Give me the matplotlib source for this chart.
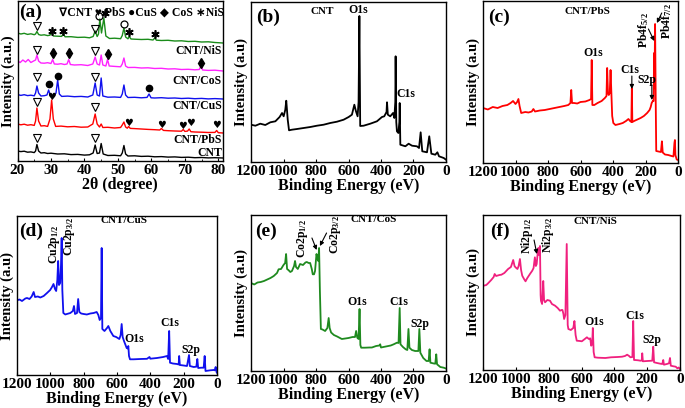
import matplotlib
matplotlib.use("Agg")
import matplotlib.pyplot as plt

plt.rcParams['font.family'] = ['Liberation Serif', 'DejaVu Sans']
plt.rcParams['font.weight'] = 'bold'
plt.rcParams['axes.labelweight'] = 'bold'
plt.rcParams['mathtext.fontset'] = 'custom'
plt.rcParams['mathtext.rm'] = 'Liberation Serif:bold'
plt.rcParams['mathtext.it'] = 'Liberation Serif:bold'
plt.rcParams['mathtext.bf'] = 'Liberation Serif:bold'

# ---------------- (a) XRD: (2theta, intensity) ----------------
xrd_cnt = [(20,10),(21,9.4),(22,9.8),(23,8.8),(24,9.1),(25,8.4),(25.4,10),(25.8,16.5),(26.3,10),(27,8),(28,8.3),
           (29,7.5),(30,7.8),(32,7),(34,7.2),(36,6.4),(38,6.6),(40,5.9),(41.5,6.2),(42.6,8),(43.2,16),(43.8,7.5),
           (44.5,8),(45.0,17.5),(45.6,7),(47,5.5),(49,5.7),(50.8,5.2),(51.3,8),(51.8,15.5),(52.3,7),(53,5),(55,5.2),
           (57,4.6),(59,4.8),(61,4.2),(63,4.4),(65,3.9),(67,4.1),(69,3.6),(71,3.8),(73,3.3),(75,3.5),(77,3.1),
           (79,3.3),(81.4,3)]
xrd_pbs = [(20,37),(21,36.2),(22,36.8),(23,35.8),(24,36.3),(25,35.6),(25.4,40),(25.8,53),(26.3,40),(27,35),(28,35.3),
           (29,34.6),(29.7,42),(30.2,61),(30.7,42),(31.4,34.6),(33,34.9),(35,34.2),(37,34.5),(39,33.8),(41,34),
           (42.5,37),(43.2,47),(43.8,37),(44.5,34),(45.0,37),(45.5,33.5),(47,33.7),(49,33),(50.8,33.5),(51.3,36),
           (51.8,39),(52.3,34),(52.8,32.8),(53.2,34.5),(53.7,32.6),(55,32.4),(57,32),(59,31.6),(61,31.3),(62.5,31),
           (63,32.5),(63.6,30.6),(65,30.3),(67,30),(69,29.8),(69.5,31.5),(70,29.6),(70.8,29.9),(71.3,32),(71.8,29.3),
           (73,29),(75,28.8),(77,28.5),(79,28.6),(79.5,30.5),(80,28.3),(81.4,28)]
xrd_cus = [(20,66.5),(21,65.6),(22,66.3),(23,65.4),(24,65.8),(25,65.2),(25.4,68),(25.8,75),(26.3,68),(27,65),
           (28,65.3),(28.8,66),(29.3,71),(29.8,65.5),(30.8,64.8),(31.5,68),(32.0,81),(32.5,67),(33.2,64.6),(35,64.9),
           (37,64.3),(39,64.6),(41,64),(42.5,66),(43.2,78),(43.8,66),(44.5,65),(45.0,83),(45.5,65),(47,63.8),(49,64),
           (50.8,63.6),(51.3,67),(51.8,76),(52.3,66),(53,63.5),(55,63.7),(57,63.2),(58.7,63.6),(59.3,67),(59.9,63.2),
           (61,63),(63,63.3),(65,62.8),(67,63),(69,62.5),(71,62.8),(73,62.3),(75,62.6),(77,62.1),(79,62.4),(81.4,62)]
xrd_cos = [(20,100),(20.8,98.5),(21.6,101),(22.4,99),(23.2,101.5),(24,98.5),(24.8,100),(25.4,101),(25.8,106),
           (26.3,100),(27,98),(28,97.8),(29,98.3),(30,97.5),(30.5,101.5),(31,97),(32,96.8),(33,97.3),(34,96.5),
           (34.8,97),(35.3,101.5),(35.8,96.5),(37,96),(39,96.3),(41,95.5),(42.5,97),(43.2,104),(43.8,97),(44.5,96),
           (45.0,106),(45.5,96),(46.4,95),(46.9,101.5),(47.4,95),(49,94.6),(50.8,94.2),(51.3,97),(51.8,103),
           (52.3,95),(53,93.5),(55,93.6),(57,93),(59,93.2),(61,92.5),(63,92.7),(65,92),(67,92.2),(69,91.5),
           (71,91.7),(73,91.2),(74.3,91.5),(74.8,95),(75.3,91),(77,90.6),(79,90.8),(81.4,90)]
xrd_nis = [(20,128),(21,127),(22,127.7),(23,126.6),(24,127.2),(25,126.3),(25.4,127),(25.8,129.5),(26.3,126.5),
           (27,125.8),(28,126.2),(29,125.4),(29.7,125.8),(30.2,128.5),(30.7,125),(32,124.8),(33.2,124.6),
           (33.7,127.5),(34.2,124.2),(36,124.3),(38,123.6),(40,123.8),(41.5,123.2),(42.6,124.5),(43.2,130),
           (43.8,124.5),(44.2,127),(44.6,142),(45.1,128),(45.8,143),(46.4,125),(47.5,122.5),(49,122.8),(50.8,122.3),
           (51.3,125.5),(51.8,133),(52.3,124),(53,122.2),(53.4,124.5),(53.9,122),(55,121.8),(57,121.5),(59,121.7),
           (60.5,121),(61,123),(61.5,120.8),(63,120.5),(65,120.7),(67,120),(69,120.2),(71,119.5),(73,119.7),
           (75,119),(77,119.2),(79,118.5),(81.4,118)]

xrd_series = [xrd_cnt, xrd_pbs, xrd_cus, xrd_cos, xrd_nis]
xrd_colors = ['black', '#ff0000', '#1010ee', '#ff22ff', '#1a8c1a']
xrd_names = ['CNT', 'CNT/PbS', 'CNT/CuS', 'CNT/CoS', 'CNT/NiS']
xrd_name_y = [8, 21, 55, 80, 110]

tri_marks = [(25.8, 23), (43.2, 23), (25.8, 59), (43.2, 54), (25.8, 84), (43.2, 84),
             (25.8, 111), (43.2, 110), (25.8, 135), (43.2, 132)]
heart_marks = [(30.2, 64), (53.2, 38), (63.0, 36), (69.2, 35), (71.6, 38), (79.5, 36)]
dot_marks = [(29.3, 77), (32.0, 85), (59.3, 73)]
diamond_marks = [(30.5, 108), (35.3, 108), (46.9, 107), (74.8, 98)]
star_marks = [(30.2, 130), (33.7, 130), (46.0, 148), (53.4, 129), (61.0, 127)]
o_marks = [(44.5, 145), (51.8, 137)]

# ---------------- XPS survey spectra: (binding energy, intensity) ----------------
xps_b = [(1200,37.3),(1173,36.3),(1143,38.3),(1112,37),(1081,39.7),(1050,40.7),(1024,45),(1009,49),(999,45.7),
         (989,52.3),(983,61.3),(974,42.3),(966,31.7),(948,32.3),(917,33),(876,34),(835,35),(794,36.3),(753,37.3),
         (712,39),(671,40.3),(630,42.3),(599,45),(579,47.3),(564,57.3),(554,50.7),(544,45.7),(538,60),(533,146),
         (528,36),(507,36.3),(466,38.3),(425,40.7),(394,45),(380,45.7),(366,50),(363,59.7),(358,47.3),(343,45.7),
         (326,49),(318,44),(312,60),(310,105.7),(306,40),(302,30.7),(293,29),(287,40),(285,59),(281,17.3),
         (250,15.7),(230,18.3),(209,16.3),(179,15.7),(166,14),(156,29.7),(146,10.7),(117,9.7),(103,25.7),
         (90,8.3),(66,7.3),(53,9.7),(43,5.7),(14,4),(0,2.3)]
xps_c = [(1200,55),(1170,53.5),(1140,56),(1110,55),(1080,57),(1050,58),(1030,60),(1015,62),(1000,59),(990,61),
         (982,64),(975,57),(965,50),(940,51),(920,50.5),(900,51.5),(890,54),(880,51.5),(850,52.5),(820,53),
         (790,54),(760,55),(730,56),(700,57),(675,58),(662,60),(657,73),(652,60),(640,60),(620,59.5),(600,61),
         (570,61.5),(545,63),(535,64),(531,103),(527,58),(515,58),(495,60),(470,62),(450,65),(440,67),(436,95),
         (431,70),(426,68),(420,70),(415,93),(410,70),(405,47),(398,40),(385,38),(360,39),(340,40),(320,42),
         (305,44),(295,42),(287,41),(284,75),(281,41),(270,42),(250,43.5),(230,45),(210,47),(190,50),(175,53),
         (168,56),(162,60),(155,62),(150,62),(147,110),(145,75),(141,139),(137,60),(134,12),(120,11.5),(105,11),
         (99,21.7),(94,10.5),(80,8.5),(60,8),(40,7),(28,6.5),(22,20),(19,23),(16,8),(8,3.5),(0,3)]
xps_d = [(1200,74.7),(1185,75.5),(1170,74),(1150,76.5),(1140,77),(1125,76),(1112,78.5),(1100,83),(1092,78),
         (1075,78.5),(1060,77.5),(1040,79),(1020,82),(1001,85),(990,88),(981,91),(972,86),(965,84),(958,95),
         (953,114),(948,90),(941,92),(936,110),(932,137),(928,85),(922,62),(910,60.5),(901,61),(880,62),(865,64),
         (858,69),(852,61),(840,62),(833,76),(826,63),(815,61.5),(800,61),(781,60.5),(760,61.5),(740,62),(722,63),
         (712,60),(704,55),(696,57),(692,127),(688,46),(675,44),(660,47),(652,49),(640,44),(622,39),(605,38),
         (586,36),(578,40),(572,51),(566,38),(558,34),(542,27),(536,26.5),(532,29),(528,19),(522,15.7),(500,15.7),
         (460,16),(420,16.2),(405,18),(400,16.3),(360,17),(323,18),(300,19),(293,16),(287,44),(282,12.3),
         (265,11.5),(240,11),(230,10.5),(227,19),(223,10),(200,9.5),(180,9),(168,20),(163,9),(140,8),(124,8.3),
         (118,16),(113,7),(95,7.3),(80,7.3),(74,19),(69,4),(40,4.7),(20,5),(14,4.7),(8,8),(3,3),(0,2.3)]
xps_e = [(1196,87.7),(1180,86.5),(1160,88.5),(1140,89),(1120,90),(1100,91.5),(1080,93),(1060,95),(1040,98),
         (1030,101.7),(1015,102),(1000,106),(990,108),(984,117),(978,102),(970,101),(958,99),(948,100),(935,105),
         (929,110),(923,104),(912,102),(898,107),(880,106),(865,108.5),(857,109),(845,108),(836,108),(826,102),
         (820,96.7),(812,96.7),(806,100),(797,117),(790,112),(786,110),(781,123),(776,80),(770,42),(760,41.5),
         (744,40),(730,43),(722,53),(716,43),(707,38.5),(690,36),(670,34.5),(641,32),(620,32.5),(600,33),
         (575,34),(560,34),(553,40),(546,33.3),(538,32),(532,62),(527,26),(522,23.3),(500,23.3),(470,23.5),
         (456,23.5),(430,25),(410,25.5),(405,26.7),(400,23.5),(370,24.5),(340,25.5),(322,26.7),(302,28.3),
         (292,28),(285,63),(280,26.7),(265,24),(248,21.7),(238,21),(231,42),(225,23.3),(210,21),(190,20),
         (179,20),(170,20),(164,42),(158,18.3),(140,13),(120,10),(107,10),(101,21.7),(96,8.3),(75,7.5),(66,7.3),
         (60,16.7),(55,6.7),(35,4),(14,3.3),(4,2.7),(0,2.5)]
xps_f = [(1196,84.3),(1180,85),(1169,86.7),(1150,90),(1135,93),(1129,96),(1120,94),(1100,95),(1088,95.3),
         (1070,97),(1047,101),(1030,103),(1016,110),(1008,104),(1002,102.7),(990,101),(983,104),(975,111),
         (968,100),(961,94.3),(950,91),(941,88.7),(930,92),(914,96),(900,99.3),(892,102),(884,112.7),(878,104),
         (873,106),(868,115),(863,122),(859,115),(853,124),(849,75),(847,69.3),(840,66),(833,89),(828,70),
         (822,67.7),(808,70),(792,69.3),(780,66),(761,64.3),(745,62),(731,59.3),(722,60),(716,60),(710,56),
         (706,51),(698,55),(690,126),(684,45),(680,41),(665,40),(650,42),(643,49),(636,35),(629,29.3),(610,29),
         (598,28.7),(580,31),(567,32.7),(555,31),(547,31.7),(541,24.3),(535,26),(531,42),(526,18),(520,12.7),
         (500,12.3),(455,12),(420,12.7),(380,13),(353,13.3),(335,14),(322,15.3),(310,14),(302,12.7),(290,13),
         (285,49),(280,10),(275,10),(255,9.7),(241,9.3),(233,9.5),(230,16.7),(226,8.7),(200,9),(169,9.3),
         (163,23.3),(158,7.7),(140,7),(120,6.3),(108,6),(102,10),(98,5.3),(80,6),(67,6.7),(61,12),(56,4.3),
         (40,3.7),(26,3.3),(16,1.7),(8,2.5),(0,1)]

be_ticks = [1200, 1000, 800, 600, 400, 200, 0]
xrd_ticks = [20, 30, 40, 50, 60, 70, 80]

W, H = 685, 408
fig = plt.figure(figsize=(W / 100, H / 100), dpi=100)


def px_axes(l, t, r, b):
    return fig.add_axes([l / W, 1 - b / H, (r - l) / W, (b - t) / H])


def style(ax):
    ax.set_yticks([])
    ax.tick_params(axis='x', direction='in', length=2.5, width=0.8, labelsize=11, pad=2)
    for s in ax.spines.values():
        s.set_linewidth(1.0)


# ---- (a)
ax = px_axes(17.5, 1, 223, 161)
for data, col, name, ny in zip(xrd_series, xrd_colors, xrd_names, xrd_name_y):
    xs, ys = zip(*data)
    ax.plot(xs, ys, color=col, lw=1.0)
    ax.text(81.1, ny, name, ha='right', va='center', fontsize=8.5)
ax.plot(*zip(*tri_marks), 'v', mfc='none', mec='k', ms=6, mew=0.8, ls='none')
for x, y in heart_marks:
    ax.text(x, y, '\u2665', family='DejaVu Sans', fontsize=7, ha='center', va='center')
ax.plot(*zip(*dot_marks), 'o', color='k', ms=4.5, ls='none')
ax.plot(*zip(*diamond_marks), 'd', color='k', ms=5, ls='none')
ax.plot(*zip(*star_marks), marker=(6, 2, 0), color='k', ms=6, mew=1.2, ls='none')
ax.plot(*zip(*o_marks), 'o', mfc='none', mec='k', ms=5, mew=0.9, ls='none')
ax.text(0.605, 0.93, '\u2207CNT \u2665 PbS \u25cfCuS \u25c6 CoS \u2217NiS', transform=ax.transAxes,
        ha='center', va='center', fontsize=8.5)
ax.text(0.065, 0.93, '(a)', transform=ax.transAxes, ha='center', va='center', fontsize=14)
ax.set_xlim(20, 81.4)
ax.set_ylim(0, 160)
ax.set_xticks(xrd_ticks)
ax.set_xticks([25, 35, 45, 55, 65, 75], minor=True)
ax.tick_params(axis='x', which='minor', direction='in', length=1.5)
style(ax)
ax.set_xlabel('2\u03b8 (degree)', fontsize=11.5, labelpad=0)
ax.set_ylabel('Intensity (a.u.)', fontsize=10.5, labelpad=2)

# ---- XPS panels
panels = [
    ((251, 2, 446, 162), xps_b, 'black', '(b)', (0.087, 0.906)),
    ((483, 1, 678, 163), xps_c, '#ff0000', '(c)', (0.082, 0.90)),
    ((17, 216, 217, 375), xps_d, '#1010ee', '(d)', (0.07, 0.906)),
    ((251, 215, 446, 371), xps_e, '#1f8a1f', '(e)', (0.077, 0.897)),
    ((483, 215, 680, 370), xps_f, '#f0207e', '(f)', (0.086, 0.897)),
]
axes = []
for box, data, col, tag, tpos in panels:
    ax = px_axes(*box)
    xs, ys = zip(*data)
    ax.plot(xs, ys, color=col, lw=1.3)
    ax.set_xlim(1200, 0)
    ax.set_ylim(0, box[3] - box[1])
    ax.set_xticks(be_ticks)
    style(ax)
    ax.text(tpos[0], tpos[1], tag, transform=ax.transAxes, ha='center', va='center', fontsize=14)
    ax.set_xlabel('Binding Energy (eV)', fontsize=11.5, labelpad=0)
    ax.set_ylabel('Intensity (a.u)', fontsize=10.5, labelpad=2)
    axes.append(ax)

arrow = dict(arrowstyle='-|>', color='k', lw=0.8, mutation_scale=6, shrinkA=0, shrinkB=0)
fs = 8.5

ax = axes[0]
ax.text(763, 150, 'CNT', ha='center', va='center', fontsize=8)
ax.text(541, 152, 'O1s', ha='center', va='center', fontsize=fs)
ax.text(246, 68, 'C1s', ha='center', va='center', fontsize=fs)

ax = axes[1]
ax.text(560, 151, 'CNT/PbS', ha='center', va='center', fontsize=8)
ax.text(523, 110, 'O1s', ha='center', va='center', fontsize=fs)
ax.text(295, 93, 'C1s', ha='center', va='center', fontsize=fs)
ax.annotate('', xy=(284, 74), xytext=(284, 87), arrowprops=arrow)
ax.text(190, 83, 'S2p', ha='center', va='center', fontsize=fs)
ax.annotate('', xy=(161, 63), xytext=(161, 78), arrowprops=arrow)
ax.text(212, 133, 'Pb4f$_{5/2}$', rotation=90, ha='center', va='center', fontsize=fs)
ax.annotate('', xy=(146, 122), xytext=(182, 134), arrowprops=arrow)
ax.text(72, 142, 'Pb4f$_{7/2}$', rotation=90, ha='center', va='center', fontsize=fs)
ax.annotate('', xy=(130, 140), xytext=(100, 150), arrowprops=arrow)

ax = axes[2]
ax.text(558, 154, 'CNT/CuS', ha='center', va='center', fontsize=8)
ax.text(972, 131, 'Cu2p$_{1/2}$', rotation=90, ha='center', va='center', fontsize=fs)
ax.text(882, 139, 'Cu2p$_{3/2}$', rotation=90, ha='center', va='center', fontsize=fs)
ax.text(498, 36, 'O1s', ha='center', va='center', fontsize=fs)
ax.text(282, 52, 'C1s', ha='center', va='center', fontsize=fs)
ax.text(156, 25, 'S2p', ha='center', va='center', fontsize=fs)

ax = axes[3]
ax.text(443, 151, 'CNT/CoS', ha='center', va='center', fontsize=8)
ax.text(880, 133, 'Co2p$_{1/2}$', rotation=90, ha='center', va='center', fontsize=fs)
ax.annotate('', xy=(796, 121), xytext=(825, 133), arrowprops=arrow)
ax.text(683, 137, 'Co2p$_{3/2}$', rotation=90, ha='center', va='center', fontsize=fs)
ax.annotate('', xy=(776, 125), xytext=(735, 138), arrowprops=arrow)
ax.text(548, 69, 'O1s', ha='center', va='center', fontsize=fs)
ax.text(289, 69, 'C1s', ha='center', va='center', fontsize=fs)
ax.text(160, 47, 'S2p', ha='center', va='center', fontsize=fs)

ax = axes[4]
ax.text(518, 149, 'CNT/NiS', ha='center', va='center', fontsize=8)
ax.text(935, 134, 'Ni2p$_{1/2}$', rotation=90, ha='center', va='center', fontsize=fs)
ax.annotate('', xy=(872, 116), xytext=(889, 130), arrowprops=arrow)
ax.text(804, 135, 'Ni2p$_{3/2}$', rotation=90, ha='center', va='center', fontsize=fs)
ax.text(524, 48, 'O1s', ha='center', va='center', fontsize=fs)
ax.text(274, 54, 'C1s', ha='center', va='center', fontsize=fs)
ax.text(171, 30, 'S2p', ha='center', va='center', fontsize=fs)

fig.savefig('out.png', dpi=100)
